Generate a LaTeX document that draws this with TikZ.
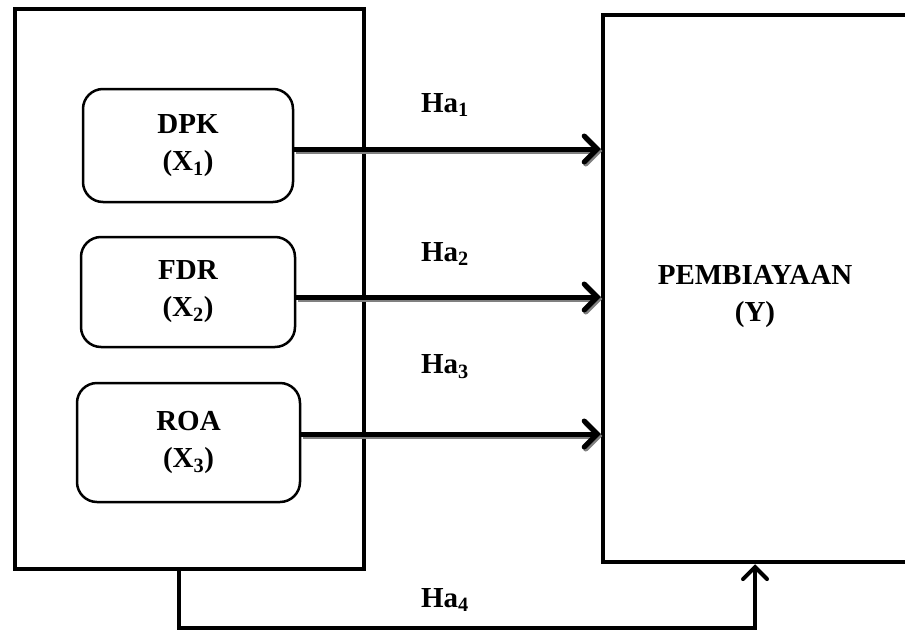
\documentclass[tikz,border=0pt]{standalone}
\usepackage{fontspec}
\setmainfont{Liberation Serif}
\usetikzlibrary{arrows.meta}
\begin{document}
\begin{tikzpicture}[x=1pt,y=-1pt,
  every node/.style={font=\fontsize{29}{37}\selectfont\bfseries, align=center, inner sep=0pt},
  outerbox/.style={draw, line width=4.5pt, rectangle},
  varbox/.style={draw, line width=2.5pt, rounded corners=20pt, rectangle},
  lbl/.style={},
  hyparrow/.style={line width=5pt, -{Straight Barb[length=13pt,width=26pt,line cap=round]}},
  hypshadow/.style={line width=5pt, draw=gray, -{Straight Barb[length=13pt,width=26pt,line cap=round]}},
  pathline/.style={line width=4pt}
]
\clip (0,0) rectangle (905,632);
\fill[white] (0,0) rectangle (905,632);
% outer boxes
\node[outerbox, minimum width=349pt, minimum height=560pt] (left) at (189.5,289) {};
\node[outerbox, minimum width=360pt, minimum height=547pt] (right) at (783,288.5) {};
\node (py) at (755,297) {PEMBIAYAAN\\(Y)};
% variable boxes
\node[varbox, minimum width=210pt, minimum height=113pt] (dpk) at (188,145.5) {DPK\\(X\textsubscript{1})};
\node[varbox, minimum width=214pt, minimum height=110pt] (fdr) at (188,292) {FDR\\(X\textsubscript{2})};
\node[varbox, minimum width=223pt, minimum height=119pt] (roa) at (188.5,442.5) {ROA\\(X\textsubscript{3})};
% arrow endpoints on the right box
\coordinate (e1) at (right.west |- 0,149);
\coordinate (e2) at (right.west |- 0,297);
\coordinate (e3) at (right.west |- 0,434);
\coordinate (s1) at (dpk.east |- 0,149);
\coordinate (s2) at (fdr.east |- 0,297);
\coordinate (s3) at (roa.east |- 0,434);
% shadows
\draw[hypshadow] ([shift={(1.5,2)}]s1) -- ([shift={(1.5,2)}]e1);
\draw[hypshadow] ([shift={(1.5,2)}]s2) -- ([shift={(1.5,2)}]e2);
\draw[hypshadow] ([shift={(1.5,2)}]s3) -- ([shift={(1.5,2)}]e3);
% arrows
\draw[hyparrow] (s1) -- (e1);
\draw[hyparrow] (s2) -- (e2);
\draw[hyparrow] (s3) -- (e3);
\node[lbl] (h1) at (445,105) {Ha\textsubscript{1}};
\node[lbl] (h2) at (445,254) {Ha\textsubscript{2}};
\node[lbl] (h3) at (445,367) {Ha\textsubscript{3}};
% Ha4 path
\coordinate (b1) at (179,0 |- left.south);
\coordinate (b2) at (755,0 |- right.south);
\draw[pathline, -{Straight Barb[length=12pt,width=24pt,line cap=round]}] (b1) -- (179,628) -- (755,628) -- (b2);
\node[lbl] (h4) at (445,600) {Ha\textsubscript{4}};
\end{tikzpicture}
\end{document}
